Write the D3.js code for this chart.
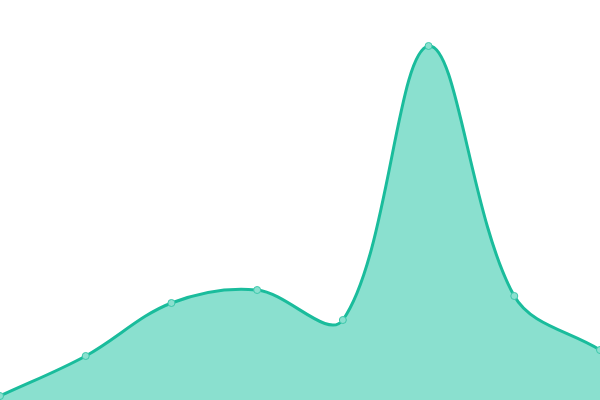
<!DOCTYPE html>
<meta charset="utf-8">
<title>area</title>
<script src="https://cdn.jsdelivr.net/npm/d3@7"></script>
<style>
html, body { margin: 0; background: #fff; }
svg { display: block; }
</style>
<body>
<script>
var categories = ["A", "B", "C", "D", "E", "F", "G", "H"];
var values = [1, 11, 24.25, 27.5, 20, 88.5, 26, 12.5];

var width = 600,
    height = 400,
    smooth = 0.35;

var x = d3.scalePoint().domain(categories).range([0, width]);
var y = d3.scaleLinear().domain([0, 100]).range([height, 0]);

var svg = d3.select("body").append("svg")
    .attr("width", width)
    .attr("height", height);

var pts = categories.map(function(c, i) { return [x(c), y(values[i])]; });

// bezier control points: tangent = next - prev, split by segment lengths
function smoothLine(p, ctx) {
    var n = p.length, cps = [];
    p.forEach(function(q, i) {
        var prev = p[Math.max(i - 1, 0)], next = p[Math.min(i + 1, n - 1)];
        var dx = next[0] - prev[0], dy = next[1] - prev[1];
        var l0 = Math.hypot(q[0] - prev[0], q[1] - prev[1]),
            l1 = Math.hypot(next[0] - q[0], next[1] - q[1]),
            r = l0 + l1 ? l1 / (l0 + l1) : 0;
        cps.push([
            [q[0] - dx * smooth * (1 - r), q[1] - dy * smooth * (1 - r)],
            [q[0] + dx * smooth * r, q[1] + dy * smooth * r]
        ]);
    });
    ctx.moveTo(p[0][0], p[0][1]);
    for (var i = 1; i < n; i++) {
        var a = cps[i - 1][1], b = cps[i][0];
        ctx.bezierCurveTo(a[0], a[1], b[0], b[1], p[i][0], p[i][1]);
    }
    return ctx;
}

var line = smoothLine(pts, d3.path()).toString();

var area = d3.path();
smoothLine(pts, area);
area.lineTo(pts[pts.length - 1][0], height);
area.lineTo(pts[0][0], height);
area.closePath();

svg.append("path")
    .attr("fill", "#8ae0cf")
    .attr("d", area.toString());

svg.append("path")
    .attr("fill", "none")
    .attr("stroke", "#1abc9c")
    .attr("stroke-width", 3)
    .attr("d", line);

svg.selectAll("circle")
    .data(pts)
    .enter().append("circle")
    .attr("cx", function(d) { return d[0]; })
    .attr("cy", function(d) { return d[1]; })
    .attr("r", 3.5)
    .attr("fill", "#8ae0cf")
    .attr("stroke", "#3cc8ab")
    .attr("stroke-width", 1);
</script>
